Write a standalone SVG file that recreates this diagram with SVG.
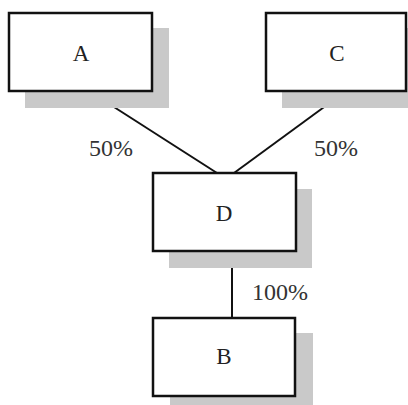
<svg xmlns="http://www.w3.org/2000/svg" width="408" height="405" viewBox="0 0 408 405">
<style>
.shadow{fill:#c9c9c9}
.box{fill:#fff;stroke:#111;stroke-width:2.5}
.lbl{font-family:"Liberation Serif","Times New Roman",serif;font-size:23px;fill:#222;text-anchor:middle}
.pct{font-family:"Liberation Serif","Times New Roman",serif;font-size:24px;fill:#333}
.conn{stroke:#111;stroke-width:2;fill:none}
</style>
<rect width="408" height="405" fill="#fff"/>
<g id="connectors">
<line class="conn" x1="89" y1="91" x2="217" y2="173"/>
<line class="conn" x1="346" y1="91" x2="234" y2="173"/>
<line class="conn" x1="232" y1="251" x2="232" y2="318"/>
</g>
<g id="node-A">
<rect class="shadow" x="25" y="28" width="144" height="80"/>
<rect class="box" x="9" y="13" width="143" height="78"/>
<text class="lbl" x="81" y="61">A</text>
</g>
<g id="node-C">
<rect class="shadow" x="282" y="28" width="140" height="80"/>
<rect class="box" x="266" y="13" width="140" height="78"/>
<text class="lbl" x="337" y="61">C</text>
</g>
<g id="node-D">
<rect class="shadow" x="169" y="189" width="143" height="79"/>
<rect class="box" x="153" y="173" width="143" height="78"/>
<text class="lbl" x="224" y="221">D</text>
</g>
<g id="node-B">
<rect class="shadow" x="170" y="333" width="143" height="80"/>
<rect class="box" x="153" y="318" width="142" height="78"/>
<text class="lbl" x="224" y="364">B</text>
</g>
<g id="labels">
<text class="pct" x="89" y="156">50%</text>
<text class="pct" x="314" y="156">50%</text>
<text class="pct" x="252" y="300">100%</text>
</g>
</svg>
